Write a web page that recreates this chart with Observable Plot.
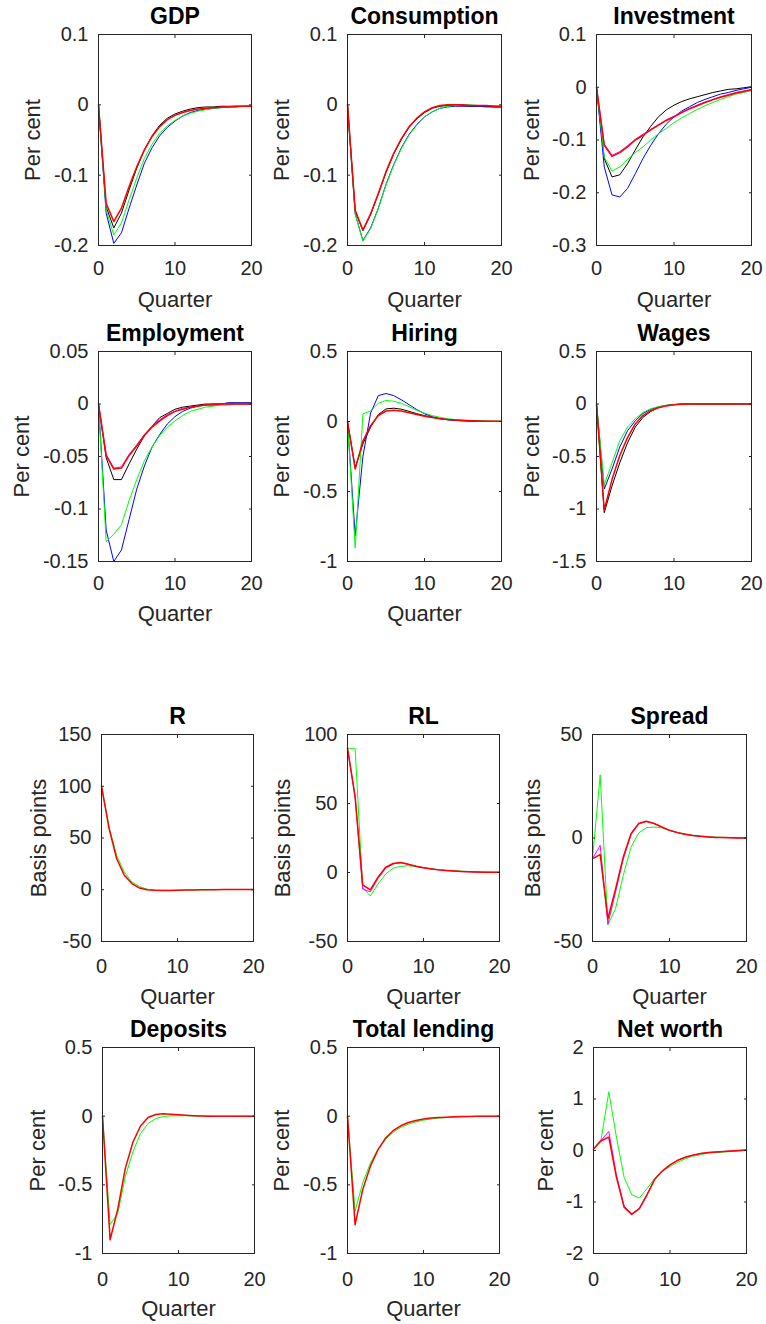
<!DOCTYPE html>
<html><head><meta charset="utf-8">
<script src="https://cdn.jsdelivr.net/npm/d3@7"></script>
<script src="https://cdn.jsdelivr.net/npm/@observablehq/plot@0.6"></script>
<style>
html,body{margin:0;padding:0;background:#fff;}
#root{position:relative;width:766px;height:1324px;overflow:hidden;font-family:"Liberation Sans",Arial,sans-serif;}
</style></head><body><div id="root"></div>
<script>
// ---------------- DATA ----------------
const quarters = [0,1,2,3,4,5,6,7,8,9,10,11,12,13,14,15,16,17,18,19,20];
const xTicks = [0, 10, 20];

const titles = ["GDP","Consumption","Investment","Employment","Hiring","Wages","R","RL","Spread","Deposits","Total lending","Net worth"];

// GDP
const gdpBlack = [0,-0.145,-0.175,-0.154,-0.121,-0.090,-0.064,-0.044,-0.029,-0.019,-0.013,-0.009,-0.006,-0.004,-0.003,-0.003,-0.002,-0.002,-0.002,-0.002,-0.002];
const gdpBlue  = [0,-0.154,-0.197,-0.182,-0.147,-0.114,-0.083,-0.061,-0.044,-0.032,-0.023,-0.016,-0.011,-0.008,-0.006,-0.005,-0.004,-0.003,-0.003,-0.002,-0.002];
const gdpGreen = [0,-0.149,-0.185,-0.168,-0.135,-0.104,-0.076,-0.056,-0.040,-0.030,-0.022,-0.016,-0.012,-0.009,-0.007,-0.005,-0.004,-0.003,-0.003,-0.002,-0.002];
const gdpRed   = [0,-0.140,-0.166,-0.147,-0.116,-0.088,-0.064,-0.045,-0.031,-0.021,-0.015,-0.011,-0.008,-0.006,-0.005,-0.004,-0.003,-0.003,-0.002,-0.002,-0.002];
const gdpTicks = [-0.2,-0.1,0,0.1];

// Consumption
const conBlack = [0,-0.151,-0.179,-0.156,-0.127,-0.096,-0.070,-0.049,-0.032,-0.020,-0.011,-0.005,-0.002,-0.001,-0.001,-0.001,-0.002,-0.002,-0.002,-0.003,-0.003];
const conBlue  = [0,-0.155,-0.193,-0.175,-0.147,-0.113,-0.085,-0.061,-0.042,-0.028,-0.017,-0.010,-0.005,-0.003,-0.002,-0.002,-0.002,-0.002,-0.003,-0.003,-0.003];
const conGreen = [0,-0.155,-0.194,-0.176,-0.148,-0.114,-0.086,-0.062,-0.043,-0.029,-0.017,-0.010,-0.005,-0.002,-0.001,0.000,0.000,-0.001,-0.001,-0.001,-0.002];
const conRed   = [0,-0.150,-0.178,-0.155,-0.126,-0.095,-0.069,-0.048,-0.031,-0.019,-0.010,-0.004,-0.001,0.000,0.000,0.000,-0.001,-0.001,-0.001,-0.002,-0.002];
const conTicks = [-0.2,-0.1,0,0.1];

// Investment
const invBlack   = [0,-0.135,-0.170,-0.166,-0.145,-0.119,-0.094,-0.074,-0.056,-0.043,-0.034,-0.027,-0.022,-0.018,-0.014,-0.010,-0.007,-0.004,-0.003,-0.001,0.001];
const invBlue    = [0,-0.151,-0.204,-0.208,-0.192,-0.164,-0.135,-0.110,-0.088,-0.070,-0.056,-0.045,-0.037,-0.029,-0.023,-0.018,-0.013,-0.010,-0.006,-0.003,0.000];
const invGreen   = [0,-0.132,-0.159,-0.151,-0.137,-0.124,-0.113,-0.100,-0.088,-0.078,-0.067,-0.058,-0.050,-0.042,-0.035,-0.029,-0.023,-0.018,-0.013,-0.010,-0.006];
const invMagenta = [0,-0.108,-0.129,-0.122,-0.111,-0.099,-0.089,-0.080,-0.071,-0.062,-0.055,-0.047,-0.040,-0.034,-0.028,-0.023,-0.018,-0.014,-0.010,-0.007,-0.004];
const invRed     = [0,-0.110,-0.131,-0.124,-0.113,-0.100,-0.091,-0.081,-0.072,-0.063,-0.056,-0.048,-0.041,-0.035,-0.029,-0.024,-0.019,-0.015,-0.011,-0.008,-0.005];
const invTicks = [-0.3,-0.2,-0.1,0,0.1];

// Employment
const empBlack   = [0,-0.051,-0.072,-0.072,-0.057,-0.043,-0.030,-0.021,-0.013,-0.009,-0.005,-0.003,-0.002,-0.001,0.000,0.000,0.000,0.001,0.001,0.001,0.001];
const empBlue    = [0,-0.120,-0.150,-0.139,-0.110,-0.081,-0.059,-0.041,-0.029,-0.019,-0.012,-0.007,-0.004,-0.002,-0.001,0.000,0.000,0.001,0.001,0.001,0.001];
const empGreen   = [0,-0.131,-0.124,-0.115,-0.092,-0.072,-0.054,-0.041,-0.030,-0.022,-0.016,-0.011,-0.007,-0.005,-0.003,-0.002,-0.001,-0.001,0.000,0.000,0.000];
const empMagenta = [0,-0.048,-0.061,-0.060,-0.048,-0.039,-0.029,-0.021,-0.015,-0.010,-0.007,-0.004,-0.003,-0.002,-0.001,0.000,0.000,0.000,0.000,0.000,0.000];
const empRed     = [0,-0.049,-0.062,-0.061,-0.049,-0.040,-0.030,-0.022,-0.016,-0.011,-0.007,-0.005,-0.003,-0.002,-0.001,-0.001,0.000,0.000,0.000,0.000,0.000];
const empTicks = [-0.15,-0.1,-0.05,0,0.05];

// Hiring
const hirBlack = [0,-0.330,-0.160,-0.040,0.050,0.090,0.095,0.088,0.072,0.056,0.042,0.030,0.021,0.014,0.010,0.007,0.005,0.003,0.002,0.001,0.001];
const hirBlue  = [0,-0.816,-0.250,0.060,0.185,0.200,0.185,0.155,0.120,0.085,0.055,0.035,0.020,0.012,0.007,0.004,0.002,0.001,0.000,0.000,0.000];
const hirGreen = [0,-0.905,0.055,0.075,0.130,0.150,0.145,0.130,0.105,0.080,0.060,0.042,0.030,0.020,0.014,0.010,0.007,0.005,0.003,0.002,0.001];
const hirRed   = [0,-0.339,-0.140,-0.030,0.043,0.075,0.080,0.075,0.062,0.050,0.038,0.028,0.020,0.014,0.010,0.007,0.005,0.003,0.002,0.001,0.001];
const hirTicks = [-1,-0.5,0,0.5];

// Wages
const wagBlack = [0,-1.035,-0.780,-0.560,-0.370,-0.220,-0.127,-0.070,-0.035,-0.015,-0.005,0.000,0.000,0.000,0.000,0.000,0.000,0.000,0.000,0.000,0.000];
const wagBlue  = [0,-0.810,-0.620,-0.410,-0.255,-0.160,-0.090,-0.050,-0.027,-0.013,-0.006,-0.002,0.000,0.000,0.000,0.000,0.000,0.000,0.000,0.000,0.000];
const wagGreen = [0,-0.770,-0.560,-0.350,-0.220,-0.140,-0.080,-0.045,-0.025,-0.012,-0.006,-0.003,-0.001,0.000,0.000,0.000,0.000,0.000,0.000,0.000,0.000];
const wagRed   = [0,-1.010,-0.720,-0.490,-0.320,-0.190,-0.110,-0.064,-0.035,-0.018,-0.008,-0.003,-0.001,0.000,0.000,0.000,0.000,0.000,0.000,0.000,0.000];
const wagTicks = [-1.5,-1,-0.5,0,0.5];

// R
const rGreen = [100,60.6,33.0,17.0,7.5,3.0,0.6,-0.3,-0.5,-0.5,-0.4,-0.3,-0.2,-0.1,0.0,0.1,0.2,0.2,0.3,0.3,0.3];
const rRed   = [100,59.0,30.0,14.0,6.0,1.6,0.0,-0.6,-0.8,-0.7,-0.5,-0.3,-0.2,-0.1,0.0,0.1,0.2,0.3,0.3,0.3,0.3];
const rTicks = [-50,0,50,100,150];

// RL
const rlGreen   = [90,90,-11,-17,-8.5,-1.2,3.2,4.4,4.9,4.4,3.6,2.8,2.1,1.6,1.2,0.9,0.6,0.4,0.3,0.2,0.1];
const rlMagenta = [90,55,-12,-14,-4.5,3.0,6.2,7.1,5.9,4.5,3.4,2.6,1.9,1.4,1.0,0.7,0.5,0.3,0.2,0.1,0.1];
const rlRed     = [90,55,-9,-12.6,-3.6,3.6,6.5,7.3,6.0,4.6,3.4,2.6,1.9,1.4,1.0,0.7,0.5,0.3,0.2,0.1,0.1];
const rlTicks = [-50,0,50,100];

// Spread
const spGreen   = [-10,30.5,-42,-34,-18,-4.4,2.4,5.0,5.3,4.9,3.7,2.8,2.0,1.4,1.0,0.7,0.4,0.3,0.2,0.1,0.05];
const spMagenta = [-10,-3.6,-41.6,-26,-10,1.5,6.8,8.0,7.0,5.3,3.7,2.6,1.8,1.2,0.8,0.5,0.3,0.2,0.1,0.05,0];
const spRed     = [-10,-8,-39,-24.6,-9.2,2.1,7.0,8.1,7.0,5.3,3.7,2.6,1.8,1.2,0.8,0.5,0.3,0.2,0.1,0.05,0];
const spTicks = [-50,0,50];

// Deposits
const depGreen = [0,-0.79,-0.71,-0.44,-0.26,-0.126,-0.053,-0.017,-0.002,0.002,0.003,0.003,0.002,0.001,0.001,0,0,0,0,0,0];
const depRed   = [0,-0.90,-0.68,-0.38,-0.19,-0.072,-0.010,0.012,0.017,0.014,0.010,0.006,0.003,0.001,0.000,0,0,0,0,0,0];
const depTicks = [-1,-0.5,0,0.5];

// Total lending
const tlGreen = [0,-0.69,-0.487,-0.342,-0.241,-0.169,-0.118,-0.082,-0.058,-0.041,-0.029,-0.020,-0.014,-0.010,-0.007,-0.005,-0.003,-0.002,-0.001,-0.001,0.000];
const tlRed   = [0,-0.79,-0.535,-0.366,-0.246,-0.161,-0.106,-0.070,-0.046,-0.031,-0.021,-0.014,-0.010,-0.007,-0.005,-0.003,-0.002,-0.001,-0.001,0.000,0.000];
const tlTicks = [-1,-0.5,0,0.5];

// Net worth
const nwGreen   = [0.03,0.22,1.14,0.26,-0.52,-0.86,-0.92,-0.74,-0.54,-0.40,-0.31,-0.23,-0.16,-0.11,-0.08,-0.05,-0.04,-0.03,-0.02,-0.01,0.00];
const nwMagenta = [0.03,0.20,0.37,-0.48,-1.08,-1.23,-1.12,-0.85,-0.56,-0.40,-0.28,-0.19,-0.13,-0.09,-0.06,-0.04,-0.03,-0.02,-0.01,0.00,0.01];
const nwRed     = [0.03,0.19,0.26,-0.52,-1.10,-1.24,-1.13,-0.86,-0.56,-0.40,-0.28,-0.19,-0.13,-0.09,-0.06,-0.04,-0.03,-0.02,-0.01,0.00,0.01];
const nwTicks = [-2,-1,0,1,2];

// ---------------- STYLE / LAYOUT ----------------
const AX = "#262626";
const C = {black:"#000000", blue:"#0000ff", green:"#00ff00", magenta:"#ff00ff", red:"#ff0000"};
const FONT = '"Liberation Sans", Arial, Helvetica, sans-serif';

const panels = [
  {title: titles[0], box:[98,34,251,245],  ticks: gdpTicks, yl:"Per cent", ydx:-65.5, xl:true, xpad:15, qdy:46,
   series:[[gdpBlack,C.black],[gdpBlue,C.blue],[gdpGreen,C.green],[gdpRed,C.red]]},
  {title: titles[1], box:[347,34,501,245], ticks: conTicks, yl:"Per cent", ydx:-65.3, xl:true, xpad:15, qdy:46,
   series:[[conBlack,C.black],[conBlue,C.blue],[conGreen,C.green],[conRed,C.red]]},
  {title: titles[2], box:[596,34,751,245], ticks: invTicks, yl:"Per cent", ydx:-65, xl:true, xpad:15, qdy:46,
   series:[[invBlack,C.black],[invBlue,C.blue],[invGreen,C.green],[invMagenta,C.magenta],[invRed,C.red]]},
  {title: titles[3], box:[98,351,251,561], ticks: empTicks, yl:"Per cent", ydx:-76.7, xl:true, xpad:14, qdy:44,
   series:[[empBlack,C.black],[empBlue,C.blue],[empGreen,C.green],[empMagenta,C.magenta],[empRed,C.red]]},
  {title: titles[4], box:[347,351,501,561], ticks: hirTicks, yl:"Per cent", ydx:-65.3, xl:true, xpad:14, qdy:44,
   series:[[hirBlack,C.black],[hirBlue,C.blue],[hirGreen,C.green],[hirRed,C.red]]},
  {title: titles[5], box:[596,351,751,561], ticks: wagTicks, yl:"Per cent", ydx:-65, xl:false, xpad:14, qdy:44,
   series:[[wagBlack,C.black],[wagBlue,C.blue],[wagGreen,C.green],[wagRed,C.red]]},
  {title: titles[6], box:[101,734,253,941], ticks: rTicks, yl:"Basis points", ydx:-63, xl:true, xpad:17, qdy:47,
   series:[[rGreen,C.green],[rRed,C.red]]},
  {title: titles[7], box:[347,734,499,941], ticks: rlTicks, yl:"Basis points", ydx:-64.3, xl:true, xpad:17, qdy:47,
   series:[[rlGreen,C.green],[rlMagenta,C.magenta],[rlRed,C.red]]},
  {title: titles[8], box:[592,734,746,941], ticks: spTicks, yl:"Basis points", ydx:-59.3, xl:true, xpad:17, qdy:47,
   series:[[spGreen,C.green],[spMagenta,C.magenta],[spRed,C.red]]},
  {title: titles[9], box:[102,1047,254,1253], ticks: depTicks, yl:"Per cent", ydx:-65, xl:true, xpad:18, qdy:47,
   series:[[depGreen,C.green],[depRed,C.red]]},
  {title: titles[10], box:[347,1047,499,1253], ticks: tlTicks, yl:"Per cent", ydx:-65.6, xl:true, xpad:18, qdy:47,
   series:[[tlGreen,C.green],[tlRed,C.red]]},
  {title: titles[11], box:[593,1047,746,1253], ticks: nwTicks, yl:"Per cent", ydx:-48, xl:false, xpad:18, qdy:47,
   series:[[nwGreen,C.green],[nwMagenta,C.magenta],[nwRed,C.red]]}
];

const fmt = d => String(d);
const blank = () => "";
const root = document.getElementById("root");

for (const p of panels) {
  const [x0, y0, x1, y1] = p.box;
  const mL = 110, mR = 20, mT = 50, mB = 80;
  const w = x1 - x0, h = y1 - y0;
  const marks = [];
  for (const [vals, col] of p.series) {
    const rows = quarters.map((q, i) => ({q, v: vals[i]}));
    marks.push(Plot.line(rows, {x: "q", y: "v", stroke: col, strokeWidth: col === C.red ? 1.5 : 1}));
  }
  marks.push(Plot.frame({stroke: AX, strokeWidth: 1}));
  marks.push(Plot.axisX({ticks: xTicks, tickSize: -3, tickPadding: p.xpad + 3, tickFormat: fmt, label: null, color: AX, fontSize: 20}));
  marks.push(Plot.axisX({anchor: "top", ticks: xTicks, tickSize: -3, tickFormat: blank, label: null, color: AX}));
  marks.push(Plot.axisY({ticks: p.ticks, tickSize: -3, tickPadding: 13, tickFormat: fmt, label: null, color: AX, fontSize: 20}));
  marks.push(Plot.axisY({anchor: "right", ticks: p.ticks, tickSize: -3, tickFormat: blank, label: null, color: AX}));
  marks.push(Plot.text([p.title], {text: d => d, frameAnchor: "top", dy: -18, lineAnchor: "middle", fontSize: 23, fontWeight: "bold", fill: "#000"}));
  marks.push(Plot.text([p.yl], {text: d => d, frameAnchor: "left", dx: p.ydx, rotate: -90, lineAnchor: "middle", textAnchor: "middle", fontSize: 22, fill: AX}));
  if (p.xl) marks.push(Plot.text(["Quarter"], {text: d => d, frameAnchor: "bottom", dy: p.qdy, lineAnchor: "top", fontSize: 22, fill: AX}));

  const svg = Plot.plot({
    width: w + mL + mR,
    height: h + mT + mB,
    marginLeft: mL, marginRight: mR, marginTop: mT, marginBottom: mB,
    x: {domain: [0, 20], axis: null},
    y: {domain: [p.ticks[0], p.ticks[p.ticks.length - 1]], axis: null},
    style: {fontFamily: FONT, fontSize: "20px", background: "transparent", overflow: "visible", color: AX},
    marks
  });
  svg.style.position = "absolute";
  svg.style.left = (x0 - mL) + "px";
  svg.style.top = (y0 - mT) + "px";
  svg.style.maxWidth = "none";
  svg.style.overflow = "visible";
  root.appendChild(svg);
}
</script>
</body></html>
